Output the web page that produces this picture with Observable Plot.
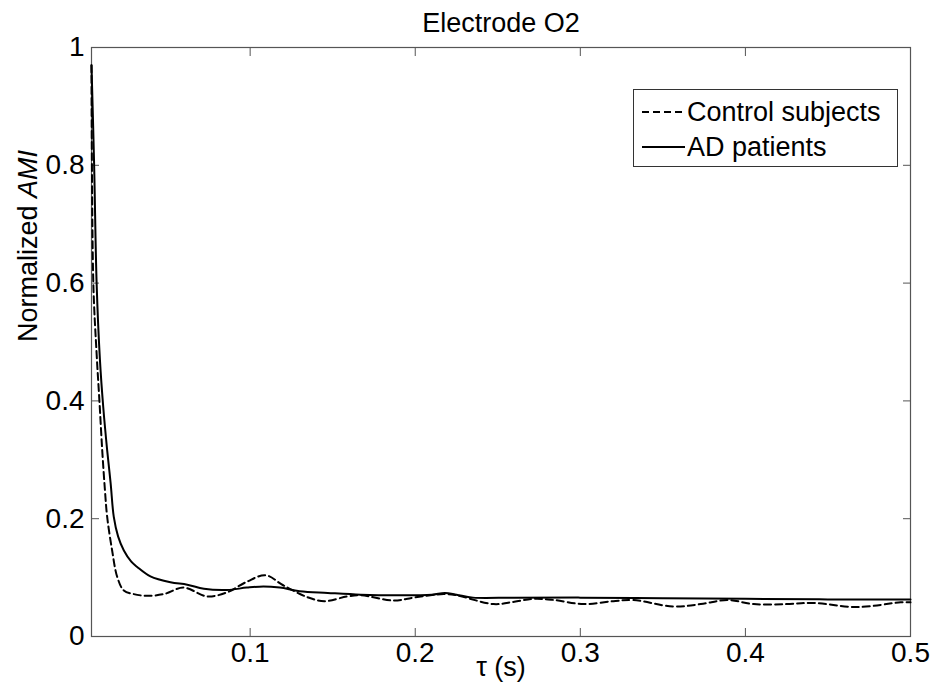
<!DOCTYPE html>
<html>
<head>
<meta charset="utf-8">
<script src="https://cdn.jsdelivr.net/npm/d3@7"></script>
<script src="https://cdn.jsdelivr.net/npm/@observablehq/plot@0.6"></script>
<style>
  html, body { margin: 0; padding: 0; background: #fff; }
  #chart { position: relative; width: 938px; height: 691px; }
</style>
</head>
<body>
<div id="chart"></div>
<script>
// Lag tau (s) and normalized AMI, Control subjects (dashed)
const controlTau = [0.0039,0.0050,0.0070,0.0087,0.0104,0.0120,0.0134,0.0164,0.0195,0.0235,0.0295,0.0376,0.0477,0.0598,0.0739,0.0860,0.0980,0.1093,0.1200,0.1345,0.1450,0.1588,0.1670,0.1870,0.1990,0.2173,0.2250,0.2475,0.2600,0.2720,0.2840,0.3020,0.3200,0.3320,0.3560,0.3730,0.3890,0.4050,0.4250,0.4410,0.4680,0.4940,0.5000];
const controlAMI = [0.97,0.60,0.48,0.40,0.316,0.25,0.203,0.146,0.101,0.078,0.072,0.069,0.072,0.083,0.068,0.075,0.093,0.104,0.087,0.067,0.060,0.068,0.070,0.061,0.066,0.072,0.070,0.055,0.059,0.064,0.062,0.055,0.060,0.062,0.051,0.055,0.062,0.055,0.055,0.057,0.050,0.058,0.058];
// AD patients (solid)
const adTau = [0.0039,0.0055,0.0070,0.0090,0.0110,0.0134,0.0155,0.0174,0.0200,0.0235,0.0280,0.0316,0.0396,0.0517,0.0619,0.0720,0.0860,0.0980,0.1080,0.1180,0.1300,0.1470,0.1670,0.1900,0.2100,0.2180,0.2250,0.2350,0.2600,0.3000,0.3500,0.4000,0.4500,0.5000];
const adAMI = [0.97,0.80,0.60,0.47,0.39,0.316,0.26,0.203,0.17,0.146,0.127,0.118,0.102,0.092,0.088,0.081,0.079,0.083,0.085,0.083,0.077,0.074,0.071,0.070,0.071,0.074,0.071,0.066,0.066,0.066,0.065,0.064,0.063,0.063];

const xTicks = [0.1, 0.2, 0.3, 0.4, 0.5];
const yTicks = [0, 0.2, 0.4, 0.6, 0.8, 1];
const seriesNames = ["Control subjects", "AD patients"];
const titleText = "Electrode O2";

const control = controlTau.map((t, i) => ({t, v: controlAMI[i]}));
const ad = adTau.map((t, i) => ({t, v: adAMI[i]}));

const FONT = "'Liberation Sans', Arial, Helvetica, sans-serif";
const axisColor = "#555";
const blank = () => "";

const plot = Plot.plot({
  width: 938,
  height: 691,
  marginLeft: 91,
  marginRight: 28,
  marginTop: 47,
  marginBottom: 55,
  style: {fontFamily: FONT, fontSize: "28px", color: "#000", background: "#fff", overflow: "visible"},
  x: {domain: [0.0039, 0.5]},
  y: {domain: [0, 1]},
  marks: [
    Plot.frame({stroke: axisColor, strokeWidth: 1.2}),
    // inward ticks on all four sides
    Plot.axisX(xTicks, {anchor: "bottom", tickSize: 8, dy: -8, tickFormat: blank, label: null, stroke: axisColor}),
    Plot.axisX(xTicks, {anchor: "top", tickSize: 8, dy: 8, tickFormat: blank, label: null, stroke: axisColor}),
    Plot.axisY(yTicks, {anchor: "left", tickSize: 8, dx: 8, tickFormat: blank, label: null, stroke: axisColor}),
    Plot.axisY(yTicks, {anchor: "right", tickSize: 8, dx: -8, tickFormat: blank, label: null, stroke: axisColor}),
    // tick labels
    Plot.axisX(xTicks, {anchor: "bottom", tickSize: 0, tickPadding: 6, label: null, tickFormat: d => String(d), fill: "#000"}),
    Plot.axisY(yTicks, {anchor: "left", tickSize: 0, tickPadding: 7, label: null, tickFormat: d => String(d), fill: "#000"}),
    // data
    Plot.line(control, {x: "t", y: "v", stroke: "#000", strokeWidth: 2, strokeDasharray: "7,4", curve: "catmull-rom"}),
    Plot.line(ad, {x: "t", y: "v", stroke: "#000", strokeWidth: 2, curve: "catmull-rom"}),
    // title and axis labels
    Plot.text([titleText], {frameAnchor: "top", dy: -24, text: d => d, fontSize: 27, lineAnchor: "middle", fill: "#000"}),
    Plot.text(["τ (s)"], {frameAnchor: "bottom", dy: 31, text: d => d, fontSize: 27, lineAnchor: "middle", fill: "#000"}),
    Plot.text(["Normalized AMI"], {frameAnchor: "left", dx: -63, rotate: -90, text: d => d, fontSize: 27, lineAnchor: "middle", fill: "#000"})
  ]
});

document.getElementById("chart").appendChild(plot);

// italicize "AMI" in the y label
const svg = d3.select(plot);
svg.selectAll("text").each(function() {
  const t = d3.select(this);
  if (t.text() === "Normalized AMI") {
    t.text(null);
    t.append("tspan").text("Normalized ");
    t.append("tspan").attr("font-style", "italic").text("AMI");
  }
});

// legend box (MATLAB-style, inside the axes)
const lg = svg.append("g").attr("font-family", FONT).attr("font-size", 27).attr("text-anchor", "start");
lg.append("rect").attr("x", 633.5).attr("y", 89.5).attr("width", 264).attr("height", 77)
  .attr("fill", "#fff").attr("stroke", "#333").attr("stroke-width", 1);
const styles = [{dash: "7,4"}, {dash: null}];
seriesNames.forEach((name, i) => {
  const cy = 112 + i * 35;
  const ln = lg.append("line").attr("x1", 642).attr("x2", 685).attr("y1", cy).attr("y2", cy)
    .attr("stroke", "#000").attr("stroke-width", 2);
  if (styles[i].dash) ln.attr("stroke-dasharray", styles[i].dash);
  lg.append("text").attr("x", 687).attr("y", cy).attr("dy", "0.35em").attr("fill", "#000")
    .attr("text-anchor", "start").text(name);
});
</script>
</body>
</html>
